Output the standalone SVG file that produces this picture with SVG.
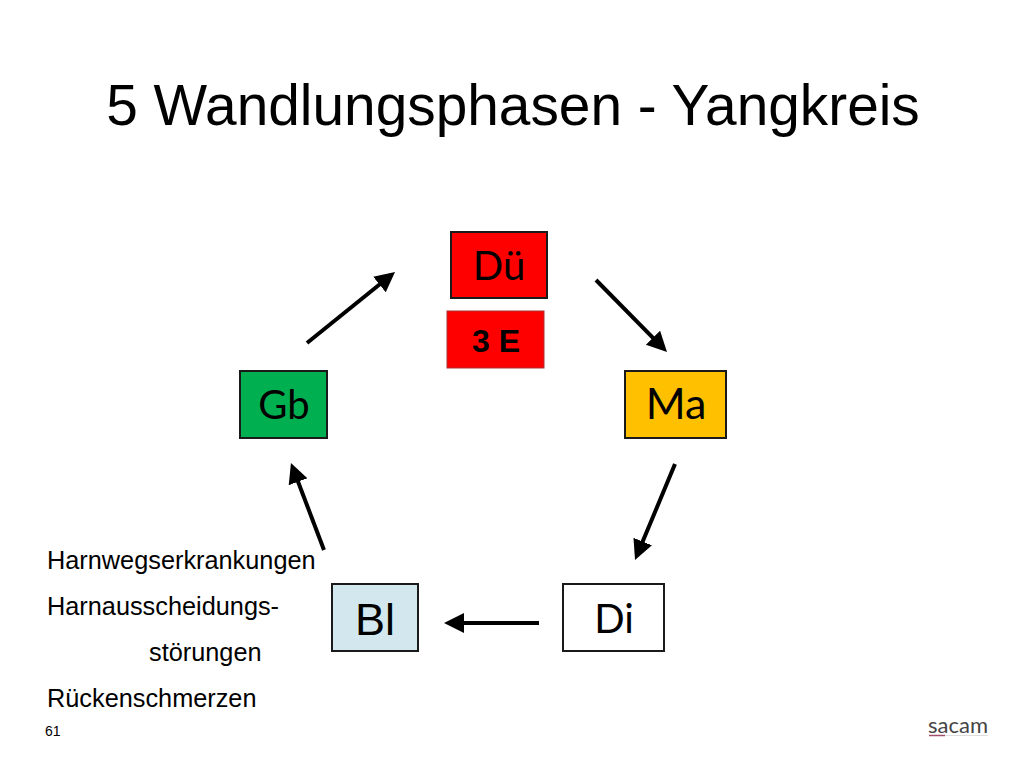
<svg xmlns="http://www.w3.org/2000/svg" width="1024" height="768" viewBox="0 0 1024 768">
<style>
.a{font-family:"Liberation Sans",Arial,sans-serif;fill:#000}
.c{font-family:Lato,"Open Sans",sans-serif;fill:#000;text-anchor:middle}
.n{stroke:#1a1a1a;stroke-width:2}
.t{font-size:25.3px}
.k{stroke:#000;stroke-width:4;fill:none;marker-end:url(#h)}
</style>
<defs><marker id="h" markerUnits="userSpaceOnUse" markerWidth="22" markerHeight="22" refX="12" refY="10" orient="auto"><path d="M0 0L20 10L0 20Z" fill="#000"/></marker></defs>
<rect width="1024" height="768" fill="#fff"/>
<text class="a" x="513" y="125" font-size="56.8" text-anchor="middle">5 Wandlungsphasen - Yangkreis</text>
<g id="connectors">
<path class="k" d="M307 343L388.8 277"/>
<path class="k" d="M596 280L661.4 346.3"/>
<path class="k" d="M675 464L638.1 552.6"/>
<path class="k" d="M539 623L452 623"/>
<path class="k" d="M324 550L293.8 470.5"/>
</g>
<g id="node-due"><rect class="n" x="451" y="232" width="96" height="66" fill="#f00"/><text class="c" x="499" y="280" font-size="40">Dü</text></g>
<g id="node-3e"><rect x="447" y="311" width="97" height="57" fill="#f00" stroke="#a33" stroke-width="1"/><text class="a" x="496" y="352" font-size="32" font-weight="bold" text-anchor="middle">3 E</text></g>
<g id="node-gb"><rect class="n" x="240" y="371" width="87" height="67" fill="#00b050"/><text class="c" x="284" y="419" font-size="40">Gb</text></g>
<g id="node-ma"><rect class="n" x="625" y="371" width="101" height="67" fill="#ffc000"/><text class="c" x="676" y="419" font-size="43">Ma</text></g>
<g id="node-bl"><rect class="n" x="332" y="584" width="86" height="67" fill="#d2e8ee"/><text class="a" x="375" y="635" font-size="45" text-anchor="middle">Bl</text></g>
<g id="node-di"><rect class="n" x="563" y="584" width="101" height="67" fill="#fff"/><text class="c" x="614" y="633" font-size="40">Di</text></g>
<g id="notes">
<text class="a t" x="47" y="568.500">Harnwegserkrankungen</text>
<text class="a t" x="47" y="614.500">Harnausscheidungs-</text>
<text class="a t" x="149" y="660.500">störungen</text>
<text class="a t" x="47" y="707">Rückenschmerzen</text>
<text class="a" x="45" y="735.500" font-size="14">61</text>
</g>
<g id="logo">
<text x="958" y="733" font-family="Lato,sans-serif" font-size="22" fill="#444" text-anchor="middle">sacam</text>
<path d="M929 735.500H988" stroke="#ddd" stroke-width="1"/><path d="M929 735.500H945" stroke="#a0506a" stroke-width="1.500"/>
</g>
</svg>
